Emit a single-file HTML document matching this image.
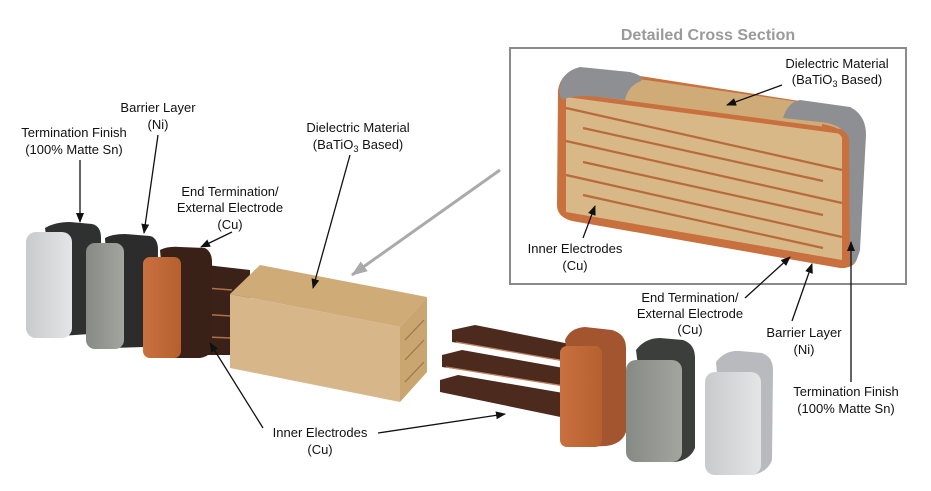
<!DOCTYPE html>
<html><head><meta charset="utf-8"><style>
html,body{margin:0;padding:0;background:#fff;width:931px;height:491px;overflow:hidden}
text{font-family:"Liberation Sans",sans-serif;font-size:13px;fill:#111}
</style></head><body>
<svg width="931" height="491" viewBox="0 0 931 491" xmlns="http://www.w3.org/2000/svg">
<defs>
<marker id="ah" markerWidth="10" markerHeight="8" refX="9" refY="4" orient="auto" markerUnits="userSpaceOnUse"><path d="M0,0 L10,4 L0,8 z" fill="#111"/></marker>
<marker id="ag" markerWidth="16" markerHeight="12" refX="15" refY="6" orient="auto" markerUnits="userSpaceOnUse"><path d="M0,0 L16,6 L0,12 z" fill="#aaa"/></marker>
<linearGradient id="silv" x1="0" x2="1"><stop offset="0" stop-color="#c9cacc"/><stop offset="1" stop-color="#e4e5e7"/></linearGradient>
<linearGradient id="ni" x1="0" x2="1"><stop offset="0" stop-color="#868a84"/><stop offset="1" stop-color="#a3a69f"/></linearGradient>
<linearGradient id="cu" x1="0" x2="1"><stop offset="0" stop-color="#c9703f"/><stop offset="1" stop-color="#b5602f"/></linearGradient>
</defs>

<text x="708" y="40" text-anchor="middle" style="font-size:16px;font-weight:bold;fill:#9a9a9a">Detailed Cross Section</text>
<rect x="510" y="48" width="396" height="236" fill="none" stroke="#8a8a8a" stroke-width="2"/>

<!-- cross section body -->
<path d="M558,90 Q561,72 580,68 L640,76 L793,100 L852,109 Q866,117 865,135 L858,255 Q856,269 840,268 L572,221 Q557,217 557,205 Z" fill="#c9703f"/>
<path d="M590,72 L855,110 L848,130 L563,92z" fill="#cfab78"/>
<path d="M566,97 L842,134 L842,260 L566,212z" fill="#d9b888"/>
<path d="M559,92 Q560,72 580,67 L630,72 Q645,76 641,81 Q628,86 625,100 L600,97 Q575,94 562,100 z" fill="#8d8f92"/>
<path d="M783,118 Q788,102 800,100 L850,107 Q866,115 866,135 L860,250 Q857,262 850,266 L849,138 Q842,124 820,122 Z" fill="#8d8f92"/>
<path d="M848,140 Q845,128 822,124 L822,128 Q840,130 843,140 L843,260 L848,262z" fill="#c9703f"/>
<g stroke="#b86a3c" stroke-width="2.2">
<line x1="566" y1="108" x2="842" y2="170"/>
<line x1="583" y1="128" x2="823" y2="181"/>
<line x1="566" y1="141" x2="842" y2="203"/>
<line x1="583" y1="162" x2="823" y2="215"/>
<line x1="566" y1="175" x2="842" y2="237"/>
<line x1="583" y1="195" x2="823" y2="248"/>
</g>

<!-- left exploded parts -->
<path d="M45,228 Q55,222 70,222 L92,224 Q101,226 101,238 L101,320 Q100,332 90,334 L60,336 z" fill="#2f3130"/>
<rect x="26" y="232" width="46" height="106" rx="10" fill="url(#silv)"/>
<path d="M105,238 Q112,234 125,234 L150,236 Q158,238 158,250 L157,336 Q155,346 145,347 L112,348z" fill="#2b2c2b"/>
<rect x="86" y="243" width="38" height="106" rx="9" fill="url(#ni)"/>
<path d="M180,262 L250,270 L250,355 L180,355z" fill="#3b2219"/>
<path d="M180,286 L232,290 M180,313 L232,316 M180,336 L232,338" stroke="#b06f4c" stroke-width="1.5"/>
<path d="M160,250 Q168,246 180,247 L205,248 Q212,252 212,262 L212,350 Q210,356 200,358 L170,358z" fill="#3a2118"/>
<rect x="143" y="257" width="38" height="101" rx="7" fill="url(#cu)"/>

<!-- dielectric block -->
<path d="M230,294 L260,265 L427,297 L400,327z" fill="#cfab78"/>
<path d="M230,294 L400,327 L400,402 L230,368z" fill="#d7b789"/>
<path d="M400,327 L427,297 L427,372 L400,402z" fill="#c9a56f"/>
<g stroke="#9a7650" stroke-width="1.2"><line x1="405" y1="340" x2="424" y2="320"/><line x1="405" y1="360" x2="424" y2="340"/><line x1="405" y1="382" x2="424" y2="362"/></g>

<!-- right exploded parts -->
<g fill="#4c2a1d">
<path d="M452,330 L475,325 L575,345 L575,362 L452,342z"/>
<path d="M442,355 L462,350 L575,370 L575,387 L442,367z"/>
<path d="M440,380 L458,375 L575,395 L575,420 L440,392z"/>
</g>
<path d="M456,342 L570,362 M446,367 L570,387" stroke="#c08060" stroke-width="1.3"/>
<path d="M565,340 Q570,328 585,327 L612,330 Q626,334 626,348 L626,432 Q622,444 606,446 L580,447z" fill="#a35530"/>
<rect x="560" y="346" width="42" height="101" rx="7" fill="url(#cu)"/>
<path d="M636,350 Q645,338 660,338 L683,340 Q695,344 695,358 L695,448 Q690,460 675,462 L650,462z" fill="#3c3e3c"/>
<rect x="626" y="360" width="56" height="102" rx="10" fill="url(#ni)"/>
<path d="M716,362 Q725,350 740,351 L762,353 Q773,357 773,370 L772,460 Q768,472 752,475 L725,475z" fill="#b9babd"/>
<rect x="705" y="372" width="56" height="103" rx="10" fill="url(#silv)"/>

<line x1="500" y1="170" x2="352" y2="275" stroke="#aaa" stroke-width="3" marker-end="url(#ag)"/>

<g stroke="#111" stroke-width="1.3" fill="none" marker-end="url(#ah)">
<line x1="80" y1="160" x2="80" y2="222"/>
<line x1="158" y1="135" x2="144" y2="233"/>
<line x1="232" y1="232" x2="201" y2="247"/>
<line x1="350" y1="155" x2="313" y2="288"/>
<line x1="263" y1="428" x2="210" y2="343"/>
<line x1="378" y1="433" x2="505" y2="414"/>
<line x1="782" y1="85" x2="727" y2="105"/>
<line x1="583" y1="238" x2="595" y2="206"/>
<line x1="745" y1="298" x2="790" y2="257"/>
<line x1="792" y1="321" x2="812" y2="264"/>
<line x1="851" y1="382" x2="851" y2="242"/>
</g>

<g text-anchor="middle">
<text x="158" y="112">Barrier Layer</text><text x="158" y="129">(Ni)</text>
<text x="74" y="137">Termination Finish</text><text x="74" y="154">(100% Matte Sn)</text>
<text x="358" y="132">Dielectric Material</text><text x="358" y="149">(BaTiO<tspan dy="3" style="font-size:9px">3</tspan><tspan dy="-3"> Based)</tspan></text>
<text x="230" y="196">End Termination/</text><text x="230" y="212">External Electrode</text><text x="230" y="229">(Cu)</text>
<text x="837" y="68">Dielectric Material</text><text x="837" y="84">(BaTiO<tspan dy="3" style="font-size:9px">3</tspan><tspan dy="-3"> Based)</tspan></text>
<text x="575" y="253">Inner Electrodes</text><text x="575" y="270">(Cu)</text>
<text x="690" y="302">End Termination/</text><text x="690" y="318">External Electrode</text><text x="690" y="334">(Cu)</text>
<text x="804" y="337">Barrier Layer</text><text x="804" y="354">(Ni)</text>
<text x="846" y="396">Termination Finish</text><text x="846" y="413">(100% Matte Sn)</text>
<text x="320" y="437">Inner Electrodes</text><text x="320" y="454">(Cu)</text>
</g>
</svg>
</body></html>
